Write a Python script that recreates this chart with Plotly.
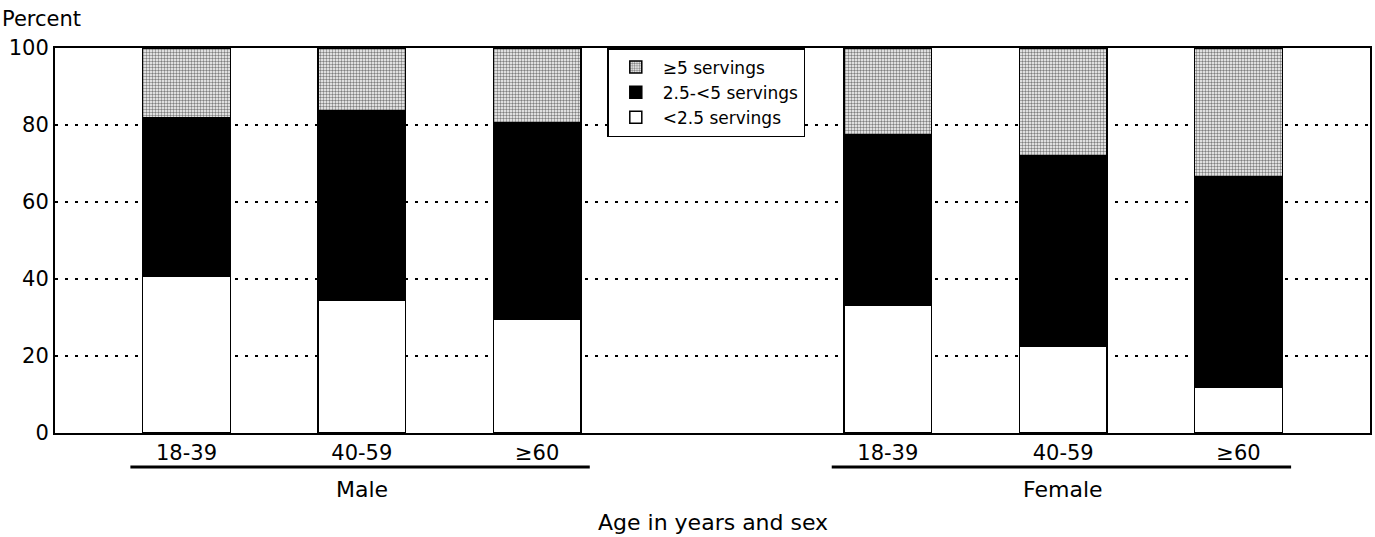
import plotly.graph_objects as go

# Dados
grupos = ["Male", "Female"]
idades = ["18-39", "40-59", "≥60"]
menos_2_5 = [40.6, 34.5, 29.5, 33.1, 22.6, 12.0]
de_2_5_a_5 = [41.4, 49.2, 51.2, 44.3, 49.3, 54.6]
mais_5 = [18.0, 16.3, 19.3, 22.6, 28.1, 33.4]
y_ticks = [0, 20, 40, 60, 80, 100]

# Posicoes: grupos separados por uma lacuna
x_pos = [g * (len(idades) + 1) + i for g in range(len(grupos)) for i in range(len(idades))]
x_text = idades * len(grupos)

fonte = "DejaVu Sans, Arial, sans-serif"
borda = dict(color="black", width=1.5)

fig = go.Figure()
fig.add_trace(go.Bar(x=x_pos, y=menos_2_5, name="<2.5 servings",
                     marker=dict(color="white", line=borda)))
fig.add_trace(go.Bar(x=x_pos, y=de_2_5_a_5, name="2.5-<5 servings",
                     marker=dict(color="black", line=borda)))
fig.add_trace(go.Bar(x=x_pos, y=mais_5, name="≥5 servings",
                     marker=dict(color="white", line=borda,
                                 pattern=dict(shape=".", fgcolor="black", bgcolor="white",
                                              size=3, solidity=0.5))))

fig.update_layout(
    barmode="stack", bargap=0.5,
    width=1375, height=537,
    margin=dict(l=55, r=5, t=48, b=104),
    plot_bgcolor="white", paper_bgcolor="white",
    font=dict(family=fonte, size=21, color="black"),
    showlegend=True,
    legend=dict(x=0.42, y=1, xanchor="left", yanchor="top", traceorder="reversed",
                bgcolor="white", bordercolor="black", borderwidth=1.5,
                font=dict(size=17), tracegroupgap=0, itemwidth=44),
)

fig.update_xaxes(range=[-0.75, 6.75], tickvals=x_pos, ticktext=x_text, automargin=False,
                 showgrid=False, showline=True, linecolor="black", linewidth=2, mirror=True,
                 ticks="", tickfont=dict(size=21))
fig.update_yaxes(range=[0, 100], tickvals=y_ticks, showgrid=True, gridcolor="black",
                 gridwidth=2, griddash="3px,7px", zeroline=False, automargin=False,
                 showline=True, linecolor="black", linewidth=2, mirror=True,
                 ticks="", tickfont=dict(size=21))

# Linhas sob os grupos
for g, nome in enumerate(grupos):
    centro = g * (len(idades) + 1) + (len(idades) - 1) / 2
    fig.add_shape(type="line", xref="x", yref="paper",
                  x0=centro - 1.32, x1=centro + 1.3, y0=-0.088, y1=-0.088,
                  line=dict(color="black", width=3))
    fig.add_annotation(x=centro, y=-0.148, xref="x", yref="paper", text=nome,
                       showarrow=False, font=dict(size=22), yanchor="middle")

fig.add_annotation(x=0.5, y=-0.232, xref="paper", yref="paper", text="Age in years and sex",
                   showarrow=False, font=dict(size=22), yanchor="middle")
fig.add_annotation(x=-0.042, y=1.075, xref="paper", yref="paper", text="Percent",
                   showarrow=False, font=dict(size=21), xanchor="left", yanchor="middle")

# sem margem na pagina
fig.write_html("out.html", config={"displayModeBar": False},
               post_script="document.body.style.margin='0';")
